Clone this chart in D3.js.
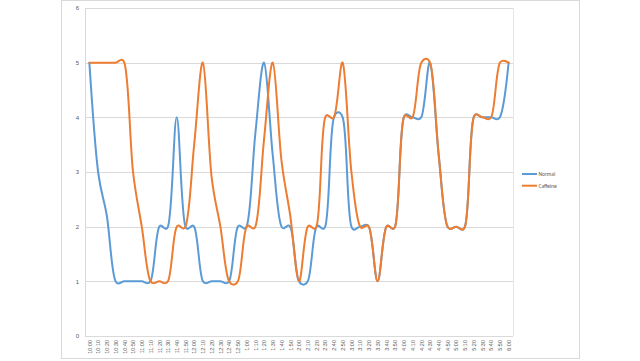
<!DOCTYPE html>
<html>
<head>
<meta charset="utf-8">
<script src="https://cdn.jsdelivr.net/npm/d3@7"></script>
<style>
  html, body { margin: 0; padding: 0; background: #fff; }
  svg { display: block; font-family: Calibri, Carlito, "Liberation Sans", Arial, sans-serif; }
</style>
</head>
<body>
<svg id="chart" width="640" height="361"></svg>
<script>
const categories = ["10:00","10:10","10:20","10:30","10:40","10:50","11:00","11:10","11:20","11:30","11:40","11:50",
  "12:00","12:10","12:20","12:30","12:40","12:50","1:00","1:10","1:20","1:30","1:40","1:50",
  "2:00","2:10","2:20","2:30","2:40","2:50","3:00","3:10","3:20","3:30","3:40","3:50",
  "4:00","4:10","4:20","4:30","4:40","4:50","5:00","5:10","5:20","5:30","5:40","5:50","6:00"];

const normal = [5,3,2.2,1,1,1,1,1,2,2,4,2,
  2,1,1,1,1,2,2,3.7,5,3.3,2,2,
  1,1,2,2,4,4,2,2,2,1,2,2,
  4,4,4,5,3.3,2,2,2,4,4,4,4,5];

const caffeine = [5,5,5,5,5,3,2,1,1,1,2,2,
  3.5,5,2.9,2,1,1,2,2,3.6,5,3.2,2.2,
  1,2,2,4,4,5,3,2,2,1,2,2,
  4,4,5,5,3.3,2,2,2,4,4,4,5,5];

const yTicks = [0,1,2,3,4,5,6];
const seriesNames = ["Normal","Caffeine"];
const seriesColors = ["#5B9BD5","#ED7D31"];

const svg = d3.select("#chart");

// chart area border
svg.append("rect")
  .attr("x", 61.5).attr("y", 0.5).attr("width", 518).attr("height", 358)
  .attr("fill", "#fff").attr("stroke", "#d9d9d9").attr("stroke-width", 1);

const plot = {left: 85, right: 513, top: 8, bottom: 336};

const x = d3.scalePoint().domain(categories).range([plot.left, plot.right]).padding(0.5);
const y = d3.scaleLinear().domain([0, 6]).range([plot.bottom, plot.top]);

// gridlines
svg.append("g").selectAll("line").data(yTicks).join("line")
  .attr("x1", plot.left).attr("x2", plot.right)
  .attr("y1", d => Math.round(y(d)) + 0.5).attr("y2", d => Math.round(y(d)) + 0.5)
  .attr("stroke", "#d9d9d9").attr("stroke-width", 1);

// left / right plot border
svg.append("line").attr("x1", plot.left + 0.5).attr("x2", plot.left + 0.5)
  .attr("y1", y(6)).attr("y2", y(0)).attr("stroke", "#d9d9d9");
svg.append("line").attr("x1", plot.right + 0.5).attr("x2", plot.right + 0.5)
  .attr("y1", y(6)).attr("y2", y(0)).attr("stroke", "#e6e6e6");

// y axis labels
const yAxis = d3.axisLeft(y).tickValues(yTicks).tickSize(0).tickPadding(6).tickFormat(d3.format("d"));
const gy = svg.append("g").attr("transform", `translate(${plot.left},0)`).call(yAxis);
gy.select(".domain").remove();
gy.selectAll("text").attr("fill", "#595959").style("font-size", "6px");

// x axis labels
const xAxis = d3.axisBottom(x).tickSize(0).tickPadding(4);
const gx = svg.append("g").attr("transform", `translate(0,${plot.bottom})`).call(xAxis);
gx.select(".domain").remove();
gx.selectAll("text")
  .attr("fill", "#595959").style("font-size", "5.5px")
  .attr("text-anchor", "end")
  .attr("dy", "0.32em")
  .attr("transform", "rotate(-90)")
  .attr("x", -4).attr("y", 0);

// lines
const line = d3.line()
  .x((d, i) => x(categories[i]))
  .y(d => y(d))
  .curve(d3.curveCatmullRom.alpha(0.25));

[normal, caffeine].forEach((s, k) => {
  svg.append("path").datum(s)
    .attr("d", line)
    .attr("fill", "none")
    .attr("stroke", seriesColors[k])
    .attr("stroke-width", 2)
    .attr("stroke-linejoin", "round")
    .attr("stroke-linecap", "round");
});

// legend
const lg = svg.append("g");
seriesNames.forEach((n, k) => {
  const yy = 174 + k * 11.7;
  lg.append("line").attr("x1", 522).attr("x2", 537).attr("y1", yy).attr("y2", yy)
    .attr("stroke", seriesColors[k]).attr("stroke-width", 2);
  lg.append("text").attr("x", 538.5).attr("y", yy).attr("dy", "0.35em")
    .attr("fill", "#595959").style("font-size", "5.5px").text(n);
});
</script>
</body>
</html>
